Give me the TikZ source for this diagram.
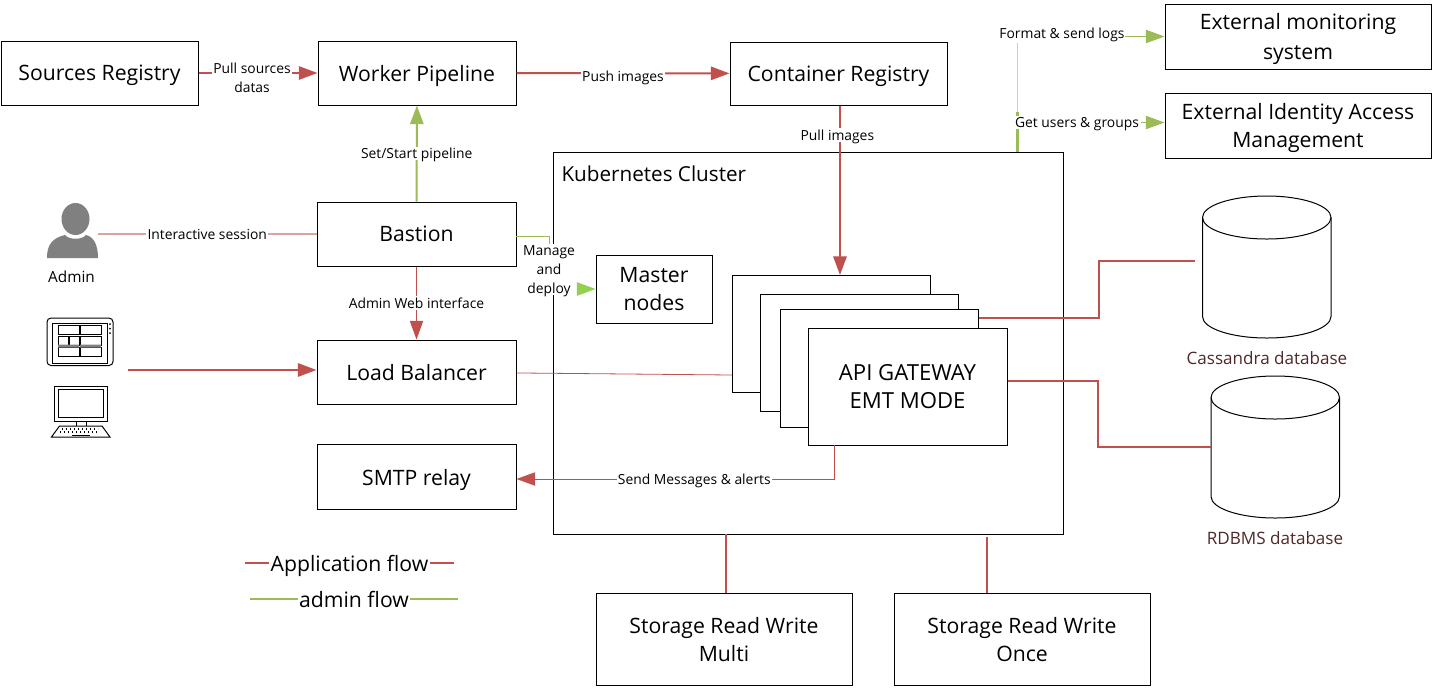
\documentclass[tikz,border=0pt]{standalone}
\usepackage{fontspec}
\setmainfont{Open Sans}
\usetikzlibrary{arrows.meta}
\definecolor{appred}{RGB}{192,80,77}
\definecolor{palered}{RGB}{217,165,163}
\definecolor{admgreen}{RGB}{155,187,89}
\definecolor{palegreen}{RGB}{198,222,146}
\definecolor{brightgreen}{RGB}{146,208,80}
\definecolor{dbbrown}{RGB}{80,40,40}
\tikzset{every picture/.style={line width=0.75pt}}
\tikzset{
  boxnode/.style args={#1x#2}{draw=black,fill=white,align=center,font=\fontsize{15.9}{21}\selectfont,
    text depth=0pt,inner sep=0pt,minimum width=#1*0.75pt,minimum height=#2*0.75pt},
  flowlabel/.style={fill=white,inner sep=1pt,align=center,text depth=0pt,font=\fontsize{10.4}{14.2}\selectfont},
  redflow/.style={draw=appred,line width=1.5pt,-{Triangle[length=14pt,width=10pt,fill=appred]}},
  redline/.style={draw=appred,line width=1.1pt},
  greenflow/.style={draw=admgreen,line width=1.5pt,-{Triangle[length=14pt,width=10pt,fill=admgreen]}},
  legendlabel/.style={fill=white,inner sep=1pt,text depth=0pt,font=\fontsize{15.9}{18}\selectfont},
  dblabel/.style={text=dbbrown,font=\fontsize{12.8}{14}\selectfont},
  dbshape/.pic={
    \draw[fill=white] (0,-21.5) arc[start angle=180,end angle=0,x radius=64.25,y radius=21.5]
      -- (128.5,-120.5) arc[start angle=0,end angle=-180,x radius=64.25,y radius=21.5] -- cycle;
    \draw (0,-21.5) arc[start angle=180,end angle=360,x radius=64.25,y radius=21.5];
  },
}
\begin{document}
\begin{tikzpicture}[x=0.75pt,y=0.75pt,yscale=-1,xscale=1]
\useasboundingbox (0,0) rectangle (1432,687);

%Shape: cluster
\node[boxnode=510x382] (cluster) at (808,343) {};
\node[anchor=west,font=\fontsize{15.5}{18}\selectfont,inner sep=0pt] (clustertitle) at (561,174) {Kubernetes Cluster};

%Shape: boxes
\node[boxnode=197x64] (sources) at (99.5,73) {Sources Registry};
\node[boxnode=198x64] (worker) at (417,73) {Worker Pipeline};
\node[boxnode=217x63] (container) at (838.5,73.5) {Container Registry};
\node[boxnode=266x65,font=\fontsize{15.9}{22}\selectfont] (monitoring) at (1298,36.5) {External monitoring\\system};
\node[boxnode=266x65] (identity) at (1298,125.5) {External Identity Access\\Management};
\node[boxnode=199x64] (bastion) at (416.5,234) {Bastion};
\node[boxnode=199x64] (balancer) at (416.5,372) {Load Balancer};
\node[boxnode=199x65] (smtp) at (416.5,477) {SMTP relay};
\node[boxnode=116x68] (master) at (654,289) {Master\\nodes};
\node[boxnode=256x92] (multi) at (724,639.5) {Storage Read Write\\Multi};
\node[boxnode=256x92] (once) at (1022,639.5) {Storage Read Write\\Once};

%Shape: gateway stack
\node[boxnode=198x117] (stacka) at (831,333.5) {};
\node[boxnode=198x117] (stackb) at (859,352.5) {};
\node[boxnode=198x118] (stackc) at (879,368) {};
\node[boxnode=199x117,font=\fontsize{16.6}{21}\selectfont] (gateway) at (907.5,386.5) {API GATEWAY\\EMT MODE};

%Shape: databases
\pic at (1202.5,196) {dbshape};
\pic at (1211,376) {dbshape};
\node[dblabel] (cassandralabel) at (1267,358) {Cassandra database};
\node[dblabel] (rdbmslabel) at (1275,538) {RDBMS database};
\coordinate (cassandrapoint) at (1195,261);
\coordinate (rdbmspoint) at (1211,447);

%Shape: admin icon
\fill[gray] (75.5,219) ellipse (14 and 16);
\fill[gray] (47,258) .. controls (47,245) and (52,238) .. (65,235) .. controls (69,240) and (82,240) .. (86,235) .. controls (94,237) and (98,245) .. (98,258) -- cycle;
\node[font=\fontsize{11.5}{14}\selectfont] (adminlabel) at (71.5,277) {Admin};
\coordinate (adminicon) at (98,234);

%Shape: tablet icon
\draw[rounded corners=3] (47,318) rectangle (113,365.5);
\draw (52,323) rectangle (107,363);
\draw (58,325) rectangle (79,334) (80,325) rectangle (101,334);
\draw (58,336) rectangle (68,345) (69,336) rectangle (79,345) (80,336) rectangle (101,345);
\draw (58,347) rectangle (79,356) (80,347) rectangle (101,356);
\fill[gray] (58,344.5) rectangle (79,347.5) (80,344.5) rectangle (101,347.5);
\fill (110,324) circle (1) (110,328.5) circle (1) (110,333) circle (1);
\coordinate (clienticon) at (128,370);

%Shape: desktop icon
\draw (54,386) rectangle (107,421);
\draw (58,389.5) rectangle (103.5,417);
\draw (76,421) -- (76,426) (86,421) -- (86,426);
\draw (51.5,437) -- (59.5,426) -- (102,426) -- (110,437) -- cycle;
\draw[dotted,line width=1pt] (62,429) -- (98,429) (60,432) -- (100,432);
\draw (72,435) -- (90,435);

%Shape: application flow
\draw[redflow] (sources) -- node[flowlabel,pos=0.45,yshift=-3.5pt] {Pull sources\\datas} (worker);
\draw[redflow] (worker) -- node[flowlabel,pos=0.5,yshift=-2pt] (pushlabel) {Push images} (container);
\coordinate (pullend) at (840,275);
\draw[redflow] (container.south -| pullend) -- node[flowlabel,pos=0.18,xshift=-2pt,yshift=0.75pt] (pulllabel) {Pull images} (pullend);
\draw[draw=palered,line width=1pt] (adminicon) -- node[flowlabel] (sessionlabel) {Interactive session} (bastion);
\draw[draw=appred,-{Triangle[length=14pt,width=10pt,fill=appred]}] (bastion) -- node[flowlabel] (weblabel) {Admin Web interface} (balancer);
\draw[redflow] (clienticon) -- (clienticon -| balancer.west);
\coordinate (balancerend) at (732,375);
\draw[draw=appred,line width=0.6pt] (balancer) -- (balancerend);
\coordinate (alertstart) at (834,445);
\draw[draw=appred,-{Triangle[length=14pt,width=10pt,fill=appred]}] (alertstart) |- node[flowlabel,pos=0.72] (alertlabel) {Send Messages \& alerts} (smtp.east |- 0,479);
\draw[redline] (stackc.east |- 0,318) -| (1099,261) -- (cassandrapoint);
\draw[redline] (gateway.east |- 0,381) -| (1098,447) -- (rdbmspoint);
\draw[redline] (726,534) -- (multi.north -| 726,0);
\draw[redline] (987,537) -- (once.north -| 987,0);

%Shape: admin flow
\draw[greenflow] (bastion) -- node[flowlabel] (pipelinelabel) {Set/Start pipeline} (worker);
\draw[draw=admgreen] (516,236) -- (549,236) -- (549,250);
\node[flowlabel,yshift=-0.5pt,fill=white] (managelabel) at (549,269) {Manage\\and\\deploy};
\draw[draw=brightgreen,line width=1.1pt,-{Triangle[length=14pt,width=10pt,fill=brightgreen]}] (579,289) -- (master);
\coordinate (greenstart) at (1017.5,152);
\draw[draw=admgreen,line width=1.6pt] (greenstart) -- (1017.5,112);
\draw[draw=palegreen,line width=1pt] (1017.5,112) -- (1017.5,43);
\node[flowlabel,inner sep=1pt,yshift=-1.25pt] (groupslabel) at (1077,121) {Get users \& groups};
\node[flowlabel,inner sep=0pt,yshift=-1.25pt] (logslabel) at (1062,32) {Format \& send logs};
\draw[draw=admgreen,-{Triangle[length=14pt,width=10pt,fill=admgreen]}] (logslabel.east |- 0,36.5) -- (monitoring.west);
\draw[draw=admgreen,-{Triangle[length=14pt,width=10pt,fill=admgreen]}] (groupslabel.east |- 0,122.5) -- (identity.west |- 0,122.5);

%Shape: legend
\draw[redline] (245,563) -- node[legendlabel,pos=0.5] (applegend) {Application flow} (454,563);
\draw[draw=admgreen,line width=1.1pt] (250,599) -- node[legendlabel,pos=0.5] (admlegend) {admin flow} (458,599);
\end{tikzpicture}
\end{document}
